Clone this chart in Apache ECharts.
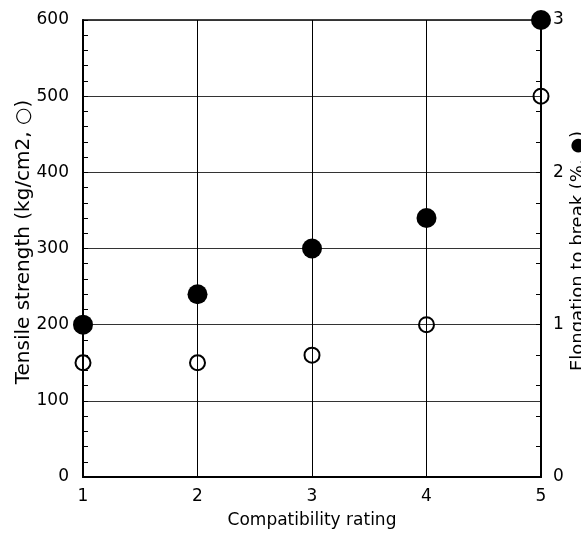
<!DOCTYPE html>
<html>
<head>
<meta charset="utf-8">
<script src="https://cdn.jsdelivr.net/npm/echarts@6/dist/echarts.min.js"></script>
<style>
  html, body { margin: 0; padding: 0; background: #fff; }
  #chart { width: 581px; height: 534px; }
</style>
</head>
<body>
<div id="chart"></div>
<script>
// Compatibility rating vs. tensile strength (open) and elongation to break (filled)
const ratings = [1, 2, 3, 4, 5];
const tensileStrength = [150, 150, 160, 200, 500];   // kg/cm2
const elongation = [1.0, 1.2, 1.5, 1.7, 3.0];        // %

const FONT = 'DejaVu Sans';

const chart = echarts.init(document.getElementById('chart'), null, { renderer: 'canvas' });

chart.setOption({
  animation: false,
  backgroundColor: '#fff',
  textStyle: { fontFamily: FONT, color: '#000' },
  grid: {
    left: 83, right: 40, top: 20, bottom: 55,
    show: true, borderColor: '#000', borderWidth: 1.5, backgroundColor: 'transparent'
  },
  xAxis: {
    type: 'value',
    min: 1, max: 5, interval: 1,
    name: 'Compatibility rating',
    nameLocation: 'middle',
    nameGap: 35,
    nameTextStyle: { fontFamily: FONT, fontSize: 17, color: '#000' },
    axisLine: { show: true, lineStyle: { color: '#000', width: 2 } },
    axisTick: { show: false },
    axisLabel: { fontFamily: FONT, fontSize: 17, color: '#000', margin: 11 },
    splitLine: { show: true, lineStyle: { color: '#000', width: 1 } }
  },
  yAxis: [
    {
      type: 'value',
      position: 'left',
      min: 0, max: 600, interval: 100,
      axisLine: { show: true, lineStyle: { color: '#000', width: 2 } },
      axisTick: { show: true, inside: true, length: 5, lineStyle: { color: '#000' } },
      minorTick: { show: true, splitNumber: 5, length: 5, lineStyle: { color: '#000' } },
      axisLabel: { fontFamily: FONT, fontSize: 17, color: '#000', margin: 14 },
      splitLine: { show: true, lineStyle: { color: '#333', width: 1 } }
    },
    {
      type: 'value',
      position: 'right',
      min: 0, max: 3, interval: 1,
      axisLine: { show: true, lineStyle: { color: '#000', width: 2 } },
      axisTick: { show: true, inside: true, length: 5, lineStyle: { color: '#000' } },
      minorTick: { show: true, splitNumber: 5, length: 5, lineStyle: { color: '#000' } },
      axisLabel: { fontFamily: FONT, fontSize: 17, color: '#000', margin: 12 },
      splitLine: { show: false }
    }
  ],
  graphic: [
    {
      type: 'text',
      x: 24, y: 242,
      rotation: Math.PI / 2,
      style: {
        text: 'Tensile strength (kg/cm2, ○)',
        fontFamily: FONT, fontSize: 20, fill: '#000',
        align: 'center', verticalAlign: 'middle'
      }
    },
    {
      type: 'text',
      x: 578, y: 251,
      rotation: Math.PI / 2,
      style: {
        text: 'Elongation to break (%, ●)',
        fontFamily: FONT, fontSize: 18, fill: '#000',
        align: 'center', verticalAlign: 'middle'
      }
    }
  ],
  series: [
    {
      name: 'Tensile strength',
      type: 'scatter',
      yAxisIndex: 0,
      symbol: 'circle',
      symbolSize: 15,
      itemStyle: { color: 'rgba(255,255,255,0)', borderColor: '#000', borderWidth: 2, opacity: 1 },
      data: ratings.map((r, i) => [r, tensileStrength[i]]),
      z: 3
    },
    {
      name: 'Elongation to break',
      type: 'scatter',
      yAxisIndex: 1,
      symbol: 'circle',
      symbolSize: 20,
      itemStyle: { color: '#000', opacity: 1 },
      data: ratings.map((r, i) => [r, elongation[i]]),
      z: 4
    }
  ]
});
</script>
</body>
</html>
